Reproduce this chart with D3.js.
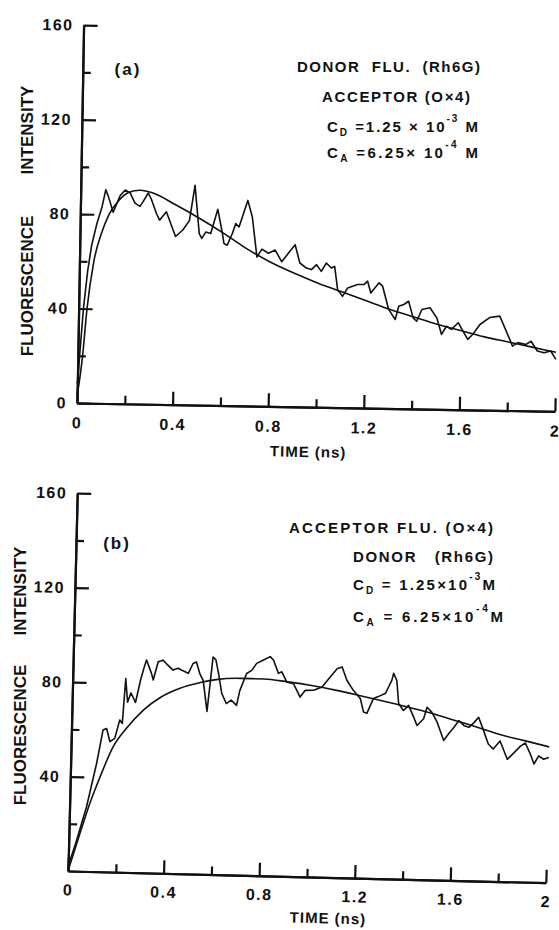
<!DOCTYPE html>
<html lang="en">
<head>
<meta charset="UTF-8">
<title>Donor / acceptor fluorescence</title>
<script src="https://d3js.org/d3.v7.min.js"></script>
<style>
  body { margin: 0; background: #fff; }
  svg text { font-family: "Liberation Sans", Arial, sans-serif; font-weight: bold; fill: #111; }
  .axis path, .axis line { stroke: #111; stroke-width: 2.2; fill: none; }
  .axis text { font-size: 16px; letter-spacing: 1.5px; }
  .trace { fill: none; stroke: #111; stroke-width: 1.6; stroke-linejoin: round; }
</style>
</head>
<body>
<script>
// axes
var timeMax = 2
var intensityMax = 160
var xMajorTicks = [0, 0.4, 0.8, 1.2, 1.6, 2]
var xMinorTicks = [0.2, 0.6, 1.0, 1.4, 1.8]
var yMajorTicksA = [0, 40, 80, 120, 160]
var yMajorTicksB = [40, 80, 120, 160]
var yMinorTicks = [20, 60, 100, 140]

// (a) donor fluorescence, [time ns, intensity]
var donorMeasured = [[0,8],[0.01,24],[0.02,40],[0.035,56],[0.05,67],[0.07,76],[0.09,83],[0.105,90.5],[0.115,88],[0.1375,81],
  [0.165,88],[0.186,90.5],[0.207,89.3],[0.228,85],[0.249,83.7],[0.2625,85.8],[0.283,89.4],[0.297,86.6],[0.318,80.9],[0.332,78],
  [0.36,81.6],[0.40,71.2],[0.43,74],[0.457,78],[0.478,93],[0.499,72.6],[0.51,70.6],[0.526,73.3],[0.547,72.7],[0.575,83],
  [0.596,72.8],[0.603,68.6],[0.617,67.9],[0.6375,72.9],[0.651,77.1],[0.665,75.7],[0.70,87],[0.72,80],[0.742,63.1],[0.7625,66.5],
  [0.79,64.8],[0.818,66.2],[0.846,61.3],[0.874,65],[0.901,68.6],[0.922,60.9],[0.95,58.8],[0.971,58.2],[0.992,60.3],[1.0125,57.5],
  [1.033,61.1],[1.054,59],[1.068,59.7],[1.082,49.9],[1.103,47.1],[1.124,50.7],[1.165,52.2],[1.193,52.3],[1.207,53.7],[1.221,48.7],
  [1.255,53.1],[1.27,51.7],[1.297,41.9],[1.325,37.7],[1.339,43.3],[1.36,44.1],[1.38,45.5],[1.40,38.5],[1.415,37.1],[1.436,42.1],
  [1.47,42.9],[1.499,38.7],[1.52,31.7],[1.54,35.2],[1.561,33.9],[1.589,36.8],[1.61,33.2],[1.63,29.8],[1.65,31.9],[1.68,36.2],
  [1.72,39.2],[1.7625,39.9],[1.818,27.3],[1.84,28.8],[1.874,28.1],[1.895,29.5],[1.922,25.4],[1.95,24.7],[1.978,25.5],[2.0,22]]
var donorFit = [[0,3],[0.02,20],[0.035,40],[0.06,60],[0.09,72],[0.12,80],[0.16,86],[0.2,89.5],[0.25,90.5],[0.3,89.5],
  [0.4,84.5],[0.5,79],[0.6,73],[0.7,66.5],[0.8,61],[0.9,56.5],[1.0,52.5],[1.1,49],[1.2,45.5],[1.3,42],[1.4,39],[1.5,36],
  [1.6,33.5],[1.7,31],[1.8,29],[1.9,27],[2.0,25]]

// (b) acceptor fluorescence
var acceptorMeasured = [[0,2],[0.03,12],[0.071,27.4],[0.109,46],[0.132,60],[0.147,60.7],[0.162,55.2],[0.182,56.6],[0.201,64.4],
  [0.212,63],[0.222,82],[0.232,72],[0.245,76],[0.265,72],[0.285,82],[0.298,87],[0.307,90.1],[0.329,84.5],[0.337,81.7],[0.356,89.5],
  [0.376,90.2],[0.39,88.8],[0.419,86.1],[0.44,86.9],[0.454,86.2],[0.483,84.9],[0.502,89.1],[0.516,89.8],[0.531,84.9],[0.546,82.1],
  [0.565,69],[0.585,92],[0.597,91],[0.61,85],[0.625,76.7],[0.645,72.5],[0.665,74],[0.688,71.8],[0.70,78],[0.727,85.4],[0.748,86.8],
  [0.768,89.8],[0.796,91.3],[0.824,92.8],[0.838,91.4],[0.86,85.8],[0.874,86.5],[0.896,82.2],[0.924,81.6],[0.953,76],[0.974,78.9],
  [1.009,79],[1.044,80.5],[1.077,84.8],[1.105,88.4],[1.126,89.2],[1.147,83.6],[1.175,79.4],[1.205,76],[1.22,70.3],[1.234,69.8],
  [1.26,76.2],[1.28,77],[1.31,78.5],[1.335,84],[1.342,87],[1.356,84],[1.366,74.2],[1.387,71.4],[1.408,73.6],[1.43,68.7],
  [1.445,65.2],[1.472,68.1],[1.485,73],[1.506,70.9],[1.529,66.8],[1.558,59.1],[1.578,62],[1.6,64.8],[1.62,67.7],[1.642,65.6],
  [1.663,65],[1.684,67.1],[1.702,69.3],[1.724,63.7],[1.745,58.1],[1.766,56],[1.794,59.5],[1.826,51.8],[1.853,54.6],[1.88,57.5],
  [1.9,58.9],[1.923,54],[1.938,50.1],[1.957,53.6],[1.978,52.2],[2.0,53]]
var acceptorFit = [[0,0],[0.046,16],[0.085,29],[0.124,40],[0.176,53],[0.23,61],[0.3,69],[0.37,74.5],[0.45,78.5],[0.53,81],
  [0.6,82.5],[0.7,83.3],[0.8,83.3],[0.9,82.3],[1.0,81],[1.1,79.3],[1.2,77.3],[1.3,75.2],[1.4,73],[1.5,70.6],[1.6,67.8],
  [1.7,65],[1.8,62],[1.9,59.8],[2.0,57.5]]

// text lines: [text, "sub"|"sup"|""]
var notesA = [
  [["DONOR  FLU.  (Rh6G)", ""]],
  [["ACCEPTOR (O\u00d74)", ""]],
  [["C", ""], ["D", "sub"], [" =1.25 \u00d7 10", ""], ["-3", "sup"], [" M", ""]],
  [["C", ""], ["A", "sub"], [" =6.25\u00d7 10", ""], ["-4", "sup"], [" M", ""]]
]
var notesB = [
  [["ACCEPTOR FLU. (O\u00d74)", ""]],
  [["DONOR   (Rh6G)", ""]],
  [["C", ""], ["D", "sub"], [" = 1.25\u00d710", ""], ["-3", "sup"], ["M", ""]],
  [["C", ""], ["A", "sub"], [" = 6.25\u00d710", ""], ["-4", "sup"], ["M", ""]]
]

var width = 559, height = 930
var svg = d3.select("body").append("svg").attr("width", width).attr("height", height)

var x = d3.scaleLinear().domain([0, timeMax]).range([0, 478])
var y = d3.scaleLinear().domain([0, intensityMax]).range([0, -378])

function drawPanel(p) {
  var g = svg.append("g")
    .attr("transform", "translate(" + p.ox + "," + p.oy + ") rotate(" + p.rot + ")")

  g.append("g").attr("class", "axis")
    .call(d3.axisBottom(x).tickValues(xMinorTicks).tickSizeInner(-8).tickSizeOuter(0).tickFormat(""))
  g.append("g").attr("class", "axis")
    .call(d3.axisBottom(x).tickValues(xMajorTicks).tickSizeInner(-13).tickSizeOuter(0)
      .tickPadding(p.xPad).tickFormat(d3.format("~g")))
  g.append("g").attr("class", "axis")
    .call(d3.axisLeft(y).tickValues(yMinorTicks).tickSizeInner(-8).tickSizeOuter(0).tickFormat(""))
  g.append("g").attr("class", "axis")
    .call(d3.axisLeft(y).tickValues(p.yTicks).tickSizeInner(-14).tickSizeOuter(0)
      .tickPadding(10).tickFormat(d3.format("d")))

  var line = d3.line().x(function (d) { return x(d[0]) }).y(function (d) { return y(d[1]) })
  g.append("path").datum(p.measured).attr("class", "trace").attr("d", line.curve(d3.curveLinear))
  g.append("path").datum(p.fit).attr("class", "trace").attr("d", line.curve(d3.curveMonotoneX))

  g.append("text").attr("x", p.titleX).attr("y", p.titleY).attr("text-anchor", "middle")
    .attr("font-size", 15).attr("letter-spacing", 1).text("TIME (ns)")

  // panel letter and y title, page coords
  svg.append("text").attr("x", p.tagX).attr("y", p.tagY).attr("text-anchor", "middle")
    .attr("font-size", 17).attr("letter-spacing", 2).text(p.tag)
  svg.append("text").attr("transform", "translate(" + p.ytX + "," + p.intY + ") rotate(-90)")
    .attr("text-anchor", "middle").attr("dy", "0.36em").attr("font-size", 17).text("INTENSITY")
  svg.append("text").attr("transform", "translate(" + p.ytX + "," + p.fluY + ") rotate(-90)")
    .attr("text-anchor", "middle").attr("dy", "0.36em").attr("font-size", 17).text("FLUORESCENCE")

  p.notes.forEach(function (parts, i) {
    var t = svg.append("text").attr("x", p.noteX[i]).attr("y", p.noteY[i]).attr("font-size", 15)
      .attr("textLength", p.noteW[i]).attr("lengthAdjust", "spacing").style("white-space", "pre")
    var prevMode = ""
    parts.forEach(function (s) {
      var ts = t.append("tspan").text(s[0])
      if (s[1] === "sub") ts.attr("font-size", 10).attr("dy", 4)
      if (s[1] === "sup") ts.attr("font-size", 10).attr("dy", -10)
      if (s[1] === "" && prevMode === "sub") ts.attr("dy", -4)
      if (s[1] === "" && prevMode === "sup") ts.attr("dy", 10)
      prevMode = s[1]
    })
  })
}

drawPanel({
  ox: 77, oy: 403, rot: 1.0, xPad: 14, yTicks: yMajorTicksA,
  measured: donorMeasured, fit: donorFit,
  titleX: 232, titleY: 50,
  tag: "(a)", tagX: 128, tagY: 75,
  ytX: 27, intY: 130, fluY: 286,
  notes: notesA, noteX: [297, 322, 327, 327], noteY: [72, 102, 132, 158], noteW: [183, 148, 151, 151]
})

drawPanel({
  ox: 68, oy: 871, rot: 1.4, xPad: 13, yTicks: yMajorTicksB,
  measured: acceptorMeasured, fit: acceptorFit,
  titleX: 261, titleY: 46,
  tag: "(b)", tagX: 117, tagY: 549,
  ytX: 20, intY: 591, fluY: 735,
  notes: notesB, noteX: [289, 353, 353, 353], noteY: [533, 562, 590, 622], noteW: [204, 140, 142, 150]
})
</script>
</body>
</html>
